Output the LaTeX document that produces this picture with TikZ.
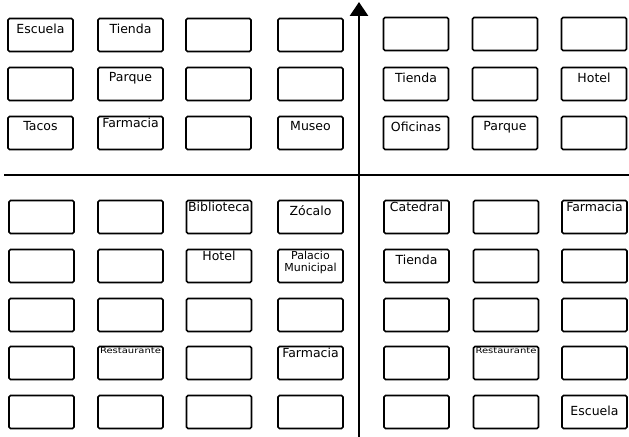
\documentclass[tikz,border=0pt]{standalone}
\usepackage{fontspec}
\setmainfont{DejaVu Sans}
\usetikzlibrary{arrows.meta}
\tikzset{
  cell/.style={draw, line width=1.7bp, rounded corners=1.5bp, minimum width=65bp,
    minimum height=33bp, inner sep=0pt, fill=white},
  txt/.style={font=\fontsize{12.5bp}{13.5bp}\selectfont, inner sep=0pt, align=center},
  lab/.style={label={[txt,anchor=north,yshift=-6bp]north:#1}},
  labtop/.style={label={[txt,anchor=north,yshift=-2bp]north:#1}},
  labmid/.style={label={[txt,anchor=center,yshift=1bp]center:#1}},
  axisline/.style={line width=2.8bp},
}
\begin{document}
\begin{tikzpicture}[x=1bp,y=-1bp]
\useasboundingbox (0,0) rectangle (629,437);
% axes
\coordinate (hl) at (4,175);
\coordinate (hr) at (629,175);
\coordinate (vb) at (359,437);
\coordinate (vt) at (359,2);
\draw[axisline] (hl) -- (hr);
\draw[axisline, -{Triangle[width=18bp,length=14bp]}] (vb) -- (vt);
% top-left quadrant
\node[cell, lab=Escuela] (a11) at (40.5,35) {};
\node[cell, lab=Tienda] (a12) at (130.5,35) {};
\node[cell] (a13) at (218.5,35) {};
\node[cell] (a14) at (310.5,35) {};
\node[cell] (a21) at (40.5,84) {};
\node[cell, lab=Parque] (a22) at (130.5,84) {};
\node[cell] (a23) at (218.5,84) {};
\node[cell] (a24) at (310.5,84) {};
\node[cell, lab=Tacos] (a31) at (40.5,133) {};
\node[cell, labtop=Farmacia] (a32) at (130.5,133) {};
\node[cell] (a33) at (218.5,133) {};
\node[cell, lab=Museo] (a34) at (310.5,133) {};
% top-right quadrant
\node[cell] (a15) at (416,34) {};
\node[cell] (a16) at (505,34) {};
\node[cell] (a17) at (594,34) {};
\node[cell, lab=Tienda] (a25) at (416,84) {};
\node[cell] (a26) at (505,84) {};
\node[cell, lab=Hotel] (a27) at (594,84) {};
\node[cell, lab=Oficinas] (a35) at (416,133) {};
\node[cell, lab=Parque] (a36) at (505,133) {};
\node[cell] (a37) at (594,133) {};
% bottom-left quadrant
\node[cell] (b11) at (41.5,217) {};
\node[cell] (b12) at (130.5,217) {};
\node[cell, labtop=Biblioteca] (b13) at (219,217) {};
\node[cell, lab=Zócalo] (b14) at (310.5,217) {};
\node[cell] (b21) at (41.5,266) {};
\node[cell] (b22) at (130.5,266) {};
\node[cell, labtop=Hotel] (b23) at (219,266) {};
\node[cell, label={[txt,anchor=north,yshift=-2bp,font=\fontsize{11bp}{12bp}\selectfont]north:Palacio\\Municipal}] (b24) at (310.5,266) {};
\node[cell] (b31) at (41.5,315) {};
\node[cell] (b32) at (130.5,315) {};
\node[cell] (b33) at (219,315) {};
\node[cell] (b34) at (310.5,315) {};
\node[cell] (b41) at (41.5,363) {};
\node[cell, label={[txt,anchor=north,yshift=-2bp,font=\fontsize{8bp}{9bp}\selectfont]north:\scalebox{1.25}[1]{Restaurante}}] (b42) at (130.5,363) {};
\node[cell] (b43) at (219,363) {};
\node[cell, labtop=Farmacia] (b44) at (310.5,363) {};
\node[cell] (b51) at (41.5,412) {};
\node[cell] (b52) at (130.5,412) {};
\node[cell] (b53) at (219,412) {};
\node[cell] (b54) at (310.5,412) {};
% bottom-right quadrant
\node[cell, labtop=Catedral] (b15) at (416.5,217) {};
\node[cell] (b16) at (506,217) {};
\node[cell, labtop=Farmacia] (b17) at (594.5,217) {};
\node[cell, lab=Tienda] (b25) at (416.5,266) {};
\node[cell] (b26) at (506,266) {};
\node[cell] (b27) at (594.5,266) {};
\node[cell] (b35) at (416.5,315) {};
\node[cell] (b36) at (506,315) {};
\node[cell] (b37) at (594.5,315) {};
\node[cell] (b45) at (416.5,363) {};
\node[cell, label={[txt,anchor=north,yshift=-2bp,font=\fontsize{8bp}{9bp}\selectfont]north:\scalebox{1.25}[1]{Restaurante}}] (b46) at (506,363) {};
\node[cell] (b47) at (594.5,363) {};
\node[cell] (b55) at (416.5,412) {};
\node[cell] (b56) at (506,412) {};
\node[cell, labmid=Escuela] (b57) at (594.5,412) {};
\end{tikzpicture}
\end{document}
